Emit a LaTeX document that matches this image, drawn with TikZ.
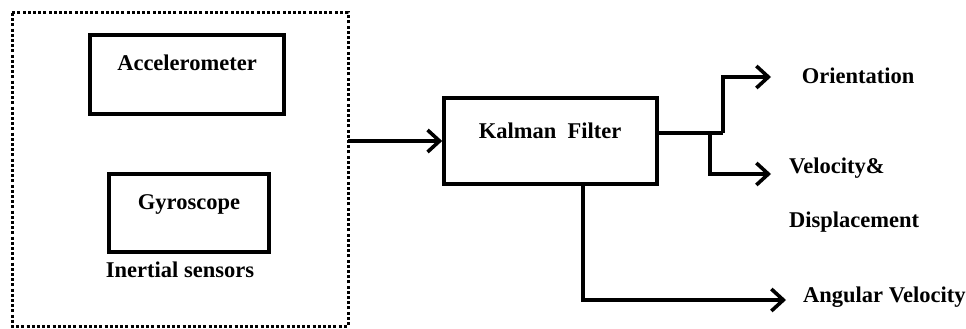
\documentclass[tikz,border=0pt]{standalone}
\usepackage{fontspec}
\setmainfont{Liberation Serif}[BoldFont={Liberation Serif Bold}]
\usetikzlibrary{arrows.meta}
\begin{document}
\begin{tikzpicture}[x=1pt,y=-1pt,
  every node/.style={font=\fontsize{22.5}{26}\selectfont\bfseries, inner sep=0pt},
  blk/.style={draw, line width=3.6pt},
  wire/.style={line width=3.6pt},
  arr/.style={wire, -{Straight Barb[length=12pt,width=22pt]}},
  lbl/.style={anchor=base}]
\useasboundingbox (0,0) rectangle (966,329);
% frame
\draw[line width=3pt, dash pattern=on 3pt off 2.2pt] (12,13) coordinate (fnw) rectangle (348,326) coordinate (fse);
\coordinate (fe) at (348,141);
% boxes
\draw[blk] (90,35) rectangle (284,114);
\node[lbl] (acc) at (187,70.5) {Accelerometer};
\draw[blk] (109,174) rectangle (269,252);
\node[lbl] (gyr) at (189,209) {Gyroscope};
\node[lbl] (ins) at (180,277) {Inertial sensors};
\node[blk, minimum width=213pt, minimum height=86pt] (kal) at (550.5,141) {};
\node[lbl] (kt) at (550,138) {Kalman\ \ Filter};
% labels
\node[lbl] (ori) at (858,84) {Orientation};
\node[lbl, anchor=base west] (vel) at (789,173) {Velocity\&};
\node[lbl, anchor=base west] (dis) at (789,227) {Displacement};
\node[lbl, anchor=base west] (ang) at (803,302) {Angular Velocity};
% coordinates
\coordinate (ko) at (kal.east |- 0,133);
\coordinate (j1) at (723,133);
\coordinate (j2) at (710,133);
\coordinate (to) at (771,77);
\coordinate (tv) at (771,174);
\coordinate (ka) at (583,0);
\coordinate (ta) at (786,300);
% connectors
\draw[arr] (fe) -- (kal.west);
\draw[wire] (ko) -- (j1);
\draw[arr] (j1) |- (to);
\draw[arr] (j2) |- (tv);
\draw[arr] (kal.south -| ka) |- (ta);
\end{tikzpicture}
\end{document}
